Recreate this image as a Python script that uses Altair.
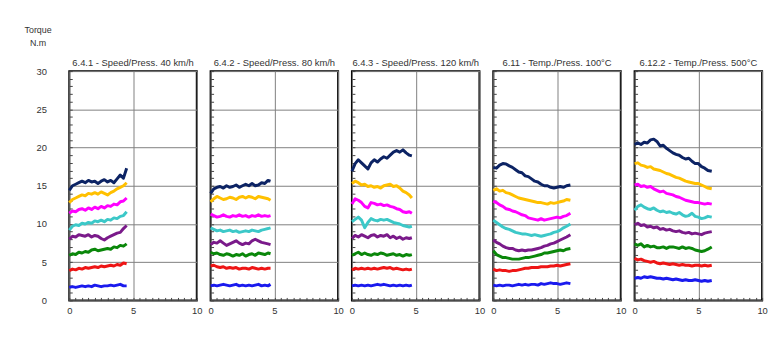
import altair as alt
import pandas as pd

TITLES = [
    "6.4.1 - Speed/Press. 40 km/h",
    "6.4.2 - Speed/Press. 80 km/h",
    "6.4.3 - Speed/Press. 120 km/h",
    "6.11 - Temp./Press. 100°C",
    "6.12.2 - Temp./Press. 500°C",
]
SERIES = ["s1", "s2", "s3", "s4", "s5", "s6", "s7", "s8"]
COLORS = ["#0c2364", "#ffc000", "#ff00ff", "#3cc8c8", "#7a1a8a", "#0a870a", "#ee1515", "#1a1aee"]

Y_TICKS = [0, 5, 10, 15, 20, 25, 30]
X_TICKS = [0, 5, 10]
Y_MINOR = [0, 1, 2, 3, 4, 5, 6, 7, 8, 9, 10, 11, 12, 13, 14, 15, 16, 17, 18, 19, 20,
           21, 22, 23, 24, 25, 26, 27, 28, 29, 30]
X_MINOR = [0, 0.5, 1, 1.5, 2, 2.5, 3, 3.5, 4, 4.5, 5, 5.5, 6, 6.5, 7, 7.5, 8, 8.5, 9, 9.5, 10]

# sample positions (time axis)
X_P1 = [0, 0.25, 0.5, 0.75, 1, 1.25, 1.5, 1.75, 2, 2.25, 2.5, 2.75, 3, 3.25, 3.5, 3.75, 4, 4.25, 4.5]
X_P23 = [0, 0.25, 0.5, 0.75, 1, 1.25, 1.5, 1.75, 2, 2.25, 2.5, 2.75, 3, 3.25, 3.5, 3.75, 4, 4.25, 4.5, 4.7]
X_P45 = [0, 0.25, 0.5, 0.75, 1, 1.25, 1.5, 1.75, 2, 2.25, 2.5, 2.75, 3, 3.25, 3.5, 3.75, 4, 4.25,
         4.5, 4.75, 5, 5.25, 5.5, 5.75, 6.05]

P1 = [
    [14.4, 15.0, 15.2, 15.4, 15.6, 15.4, 15.7, 15.5, 15.6, 15.3, 15.6, 15.8, 15.5, 15.7, 15.4, 15.9, 16.4, 16.0, 17.3],
    [12.8, 13.2, 13.4, 13.6, 13.8, 13.7, 14.0, 13.9, 14.1, 13.9, 14.2, 14.0, 13.8, 14.1, 14.3, 14.6, 14.8, 15.0, 15.4],
    [11.4, 11.7, 11.6, 11.9, 12.0, 11.8, 12.1, 11.9, 12.2, 12.0, 12.3, 12.1, 12.4, 12.3, 12.6, 12.5, 12.9, 13.0, 13.4],
    [9.2, 9.7, 9.9, 9.8, 10.1, 10.0, 10.2, 10.1, 10.4, 10.3, 10.5, 10.3, 10.6, 10.5, 10.8, 10.7, 11.0, 11.1, 11.6],
    [8.0, 8.4, 8.3, 8.6, 8.5, 8.4, 8.6, 8.3, 8.5, 8.4, 8.1, 7.9, 8.2, 8.4, 8.6, 8.8, 8.9, 9.4, 9.8],
    [5.9, 6.1, 6.0, 6.3, 6.2, 6.4, 6.3, 6.6, 6.7, 6.5, 6.6, 6.7, 6.8, 6.7, 7.0, 6.9, 7.2, 7.1, 7.4],
    [3.9, 4.1, 4.0, 4.2, 4.1, 4.3, 4.2, 4.3, 4.4, 4.3, 4.5, 4.4, 4.5, 4.6, 4.5, 4.7, 4.6, 4.9, 4.8],
    [1.7, 1.8, 1.7, 1.8, 1.9, 1.8, 1.9, 1.8, 2.0, 1.9, 1.8, 1.9, 1.9, 2.0, 1.9, 2.0, 2.1, 1.9, 1.9],
]
P2 = [
    [14.0, 14.6, 14.8, 14.9, 14.7, 15.0, 14.8, 14.9, 15.1, 14.8, 15.0, 15.2, 15.0, 15.3, 15.0, 15.1, 15.4, 15.3, 15.7, 15.6],
    [12.9, 13.3, 13.6, 13.4, 13.2, 13.3, 13.5, 13.4, 13.2, 13.5, 13.6, 13.4, 13.6, 13.5, 13.3, 13.6, 13.5, 13.4, 13.3, 13.1],
    [11.3, 11.1, 10.9, 11.0, 11.2, 11.0, 10.9, 11.1, 11.0, 11.2, 11.0, 11.1, 10.9, 11.1, 11.0, 11.2, 11.0, 11.1, 11.0, 11.1],
    [9.5, 9.3, 9.1, 9.2, 9.0, 9.1, 9.2, 9.0, 9.1, 8.9, 9.0, 9.1, 9.0, 9.2, 9.1, 9.0, 9.2, 9.3, 9.4, 9.5],
    [7.3, 7.6, 7.5, 7.8, 7.5, 7.2, 7.4, 7.6, 7.8, 7.5, 7.3, 7.5, 7.4, 7.8, 8.0, 7.8, 7.6, 7.5, 7.4, 7.3],
    [6.3, 6.1, 6.2, 6.0, 5.9, 6.1, 6.0, 5.8, 6.0, 5.9, 6.1, 5.8, 6.0, 6.1, 5.9, 6.2, 6.1, 6.0, 6.2, 6.1],
    [4.5, 4.6, 4.4, 4.3, 4.4, 4.2, 4.3, 4.2, 4.3, 4.1, 4.2, 4.2, 4.1, 4.3, 4.2, 4.1, 4.2, 4.1, 4.2, 4.2],
    [1.9, 2.0, 1.9, 2.0, 2.1, 2.0, 1.9, 2.0, 2.1, 1.9, 2.0, 1.9, 2.0, 1.9, 2.0, 2.1, 1.9, 2.0, 1.9, 2.1],
]
P3 = [
    [16.9, 17.9, 18.4, 18.0, 17.6, 17.2, 18.0, 18.4, 18.1, 18.5, 18.8, 18.6, 19.0, 19.4, 19.6, 19.4, 19.7, 19.3, 19.0, 18.9],
    [15.3, 15.6, 15.4, 15.1, 15.2, 14.9, 15.0, 14.8, 14.9, 14.7, 15.0, 15.1, 15.2, 14.9, 15.0, 14.7, 14.3, 14.1, 13.8, 13.4],
    [12.6, 13.3, 13.1, 12.8, 12.3, 12.1, 12.8, 12.7, 12.5, 12.6, 12.4, 12.5, 12.3, 12.2, 12.0, 11.9, 11.6, 11.5, 11.6, 11.4],
    [10.3, 10.6, 10.9, 10.5, 9.5, 10.2, 10.7, 10.5, 10.4, 10.6, 10.5, 10.6, 10.4, 10.2, 10.1, 10.0, 9.8, 9.7, 9.6, 9.7],
    [8.1, 8.5, 8.3, 8.6, 8.4, 8.2, 8.5, 8.6, 8.3, 8.5, 8.4, 8.6, 8.2, 8.4, 8.1, 8.3, 8.0, 8.2, 8.1, 8.2],
    [5.9, 6.1, 6.3, 6.0, 6.2, 6.0, 5.9, 6.1, 6.0, 6.2, 6.1, 5.9, 6.0, 6.1, 5.9, 6.0, 5.8, 6.0, 5.9, 6.0],
    [4.0, 4.2, 4.1, 4.2, 4.1, 4.2, 4.1, 4.2, 4.1, 4.2, 4.3, 4.2, 4.3, 4.1, 4.2, 4.1, 4.0, 4.1, 4.0, 4.1],
    [1.9, 2.0, 1.9, 2.0, 1.9, 2.0, 1.9, 2.0, 2.1, 2.0, 2.1, 2.0, 1.9, 2.0, 1.9, 2.0, 1.9, 2.0, 1.9, 2.0],
]
P4 = [
    [17.4, 17.3, 17.7, 17.9, 17.85, 17.6, 17.4, 17.1, 16.8, 16.7, 16.3, 16.2, 15.9, 15.6, 15.5, 15.2, 15.0, 15.0, 14.8, 14.7, 14.8, 14.9, 14.8, 15.0, 15.1],
    [14.4, 14.6, 14.3, 14.4, 14.1, 14.0, 13.8, 13.6, 13.4, 13.3, 13.2, 13.1, 13.0, 12.9, 12.8, 12.8, 12.7, 12.6, 12.8, 12.7, 12.8, 12.9, 13.0, 13.2, 13.1],
    [13.0, 12.8, 12.5, 12.3, 12.0, 11.9, 11.7, 11.6, 11.4, 11.2, 11.1, 10.8, 10.7, 10.6, 10.5, 10.7, 10.5, 10.6, 10.7, 10.8, 10.9, 10.8, 11.0, 11.1, 11.4],
    [10.5, 10.2, 9.9, 9.6, 9.4, 9.3, 9.1, 8.9, 8.8, 8.7, 8.7, 8.6, 8.5, 8.6, 8.5, 8.4, 8.5, 8.6, 8.7, 8.9, 9.0, 9.2, 9.5, 9.7, 10.0],
    [7.9, 7.6, 7.4, 7.1, 6.9, 6.8, 6.8, 6.6, 6.5, 6.6, 6.5, 6.6, 6.6, 6.7, 6.8, 6.9, 7.1, 7.2, 7.4, 7.5, 7.7, 7.9, 8.1, 8.3, 8.6],
    [6.5, 6.0, 5.8, 5.6, 5.6, 5.5, 5.4, 5.4, 5.4, 5.5, 5.6, 5.6, 5.7, 5.8, 5.9, 6.0, 6.2, 6.2, 6.3, 6.4, 6.5, 6.6, 6.5, 6.7, 6.8],
    [4.1, 3.9, 4.0, 3.9, 3.9, 3.8, 3.9, 3.9, 4.0, 4.1, 4.2, 4.2, 4.3, 4.3, 4.3, 4.4, 4.4, 4.4, 4.5, 4.5, 4.6, 4.5, 4.6, 4.7, 4.8],
    [2.0, 1.9, 2.0, 1.9, 2.0, 2.0, 1.9, 2.0, 2.1, 2.0, 2.1, 2.0, 2.1, 2.1, 2.0, 2.2, 2.1, 2.2, 2.3, 2.2, 2.2, 2.1, 2.2, 2.3, 2.2],
]
P5 = [
    [20.4, 20.6, 20.4, 20.7, 20.6, 21.0, 21.1, 20.8, 20.2, 20.3, 19.9, 19.6, 19.3, 19.1, 19.0, 18.7, 18.5, 18.6, 18.2, 17.9, 17.9, 17.5, 17.3, 17.0, 16.9],
    [17.9, 18.0, 17.7, 17.6, 17.4, 17.5, 17.2, 17.1, 17.0, 16.8, 16.6, 16.5, 16.3, 16.1, 16.0, 15.8, 15.6, 15.5, 15.4, 15.3, 15.3, 15.1, 14.9, 14.7, 14.6],
    [15.1, 15.2, 14.9, 15.0, 14.8, 14.9, 14.6, 14.4, 14.2, 14.3, 14.0, 13.9, 13.8, 13.6, 13.5, 13.3, 13.1, 13.0, 12.9, 12.8, 12.8, 12.7, 12.6, 12.7, 12.6],
    [11.8, 12.3, 12.5, 12.2, 12.0, 11.9, 12.1, 11.8, 11.6, 11.7, 11.5, 11.6, 11.4, 11.3, 11.5, 11.2, 11.0, 11.1, 11.4, 11.0, 10.9, 10.7, 10.8, 11.0, 10.9],
    [9.9, 10.1, 9.8, 9.9, 9.6, 9.7, 9.5, 9.6, 9.3, 9.4, 9.2, 9.3, 9.1, 9.0, 9.1, 8.9, 8.8, 8.9, 8.7, 8.8, 8.7, 8.6, 8.8, 8.9, 9.0],
    [7.4, 7.2, 7.4, 7.0, 7.2, 7.0, 7.1, 6.9, 6.9, 7.0, 6.8, 7.0, 7.0, 6.9, 6.8, 7.0, 6.8, 6.9, 6.8, 6.6, 6.5, 6.4, 6.5, 6.7, 7.0],
    [5.5, 5.3, 5.4, 5.2, 5.1, 5.0, 5.1, 4.9, 4.8, 4.9, 4.8, 4.7, 4.8, 4.7, 4.6, 4.7, 4.6, 4.6, 4.5, 4.6, 4.6, 4.5, 4.6, 4.5, 4.6],
    [2.9, 3.0, 2.9, 3.1, 3.0, 3.1, 3.0, 2.9, 2.9, 2.8, 2.9, 2.8, 2.7, 2.8, 2.7, 2.6, 2.7, 2.6, 2.6, 2.7, 2.6, 2.5, 2.6, 2.5, 2.6],
]

PANELS = [(X_P1, P1), (X_P23, P2), (X_P23, P3), (X_P45, P4), (X_P45, P5)]

FONT = "Liberation Sans"
TXT = "#333333"


def make_panel(idx):
    xs, block = PANELS[idx]
    rows = []
    for s, vals in zip(SERIES, block):
        for x, y in zip(xs, vals):
            rows.append({"series": s, "x": x, "y": y})
    df = pd.DataFrame(rows)
    first = idx == 0
    xscale = alt.Scale(domain=[0, 10], nice=False)
    yscale = alt.Scale(domain=[0, 30], nice=False)

    lines = alt.Chart(df).mark_line(strokeWidth=3, strokeJoin="round").encode(
        x=alt.X("x:Q", scale=xscale, title=None,
                axis=alt.Axis(values=X_TICKS, grid=True, ticks=False, domain=False,
                              labelPadding=5, labelFontSize=9.5, labelColor=TXT,
                              labelFont=FONT, labelFlush=False)),
        y=alt.Y("y:Q", scale=yscale, title=None,
                axis=alt.Axis(values=Y_TICKS, grid=True, ticks=False, domain=False,
                              labels=first, labelPadding=23, labelFontSize=9.5,
                              labelColor=TXT, labelFont=FONT)),
        color=alt.Color("series:N", scale=alt.Scale(domain=SERIES, range=COLORS), legend=None),
        order=alt.Order("x:Q"),
    )
    minor = alt.Chart(df).mark_line(opacity=0).encode(
        x=alt.X("x:Q", scale=xscale, title=None,
                axis=alt.Axis(orient="bottom", values=X_MINOR, grid=False, labels=False,
                              domain=False, ticks=True, tickSize=3, offset=-3,
                              tickColor="#444444")),
        y=alt.Y("y:Q", scale=yscale, title=None,
                axis=alt.Axis(orient="left", values=Y_MINOR, grid=False, labels=False,
                              domain=False, ticks=True, tickSize=3, offset=-3,
                              tickColor="#444444")),
        detail="series:N",
    )
    return alt.layer(lines, minor).resolve_axis(x="independent", y="independent").properties(
        width=129, height=232,
        title=alt.TitleParams(TITLES[idx], fontSize=9.5, font=FONT, color=TXT,
                              fontWeight="normal", offset=(-1 if first else 3)),
    )


chart = alt.hconcat(*[make_panel(i) for i in range(5)], spacing=14, bounds="flush").properties(
    title=alt.TitleParams(["Torque", "N.m"], anchor="start", align="center", dx=3,
                          fontSize=9, font=FONT, color=TXT, fontWeight="normal",
                          lineHeight=13, offset=9, frame="bounds"),
    padding={"left": 16, "top": 16, "right": 2, "bottom": 5},
    background="white",
).configure_view(
    stroke="black", strokeWidth=2,
).configure_axis(
    gridColor="#808080", gridWidth=1, gridOpacity=1,
)

chart.save("out.html", embed_options={"renderer": "svg", "actions": False})
